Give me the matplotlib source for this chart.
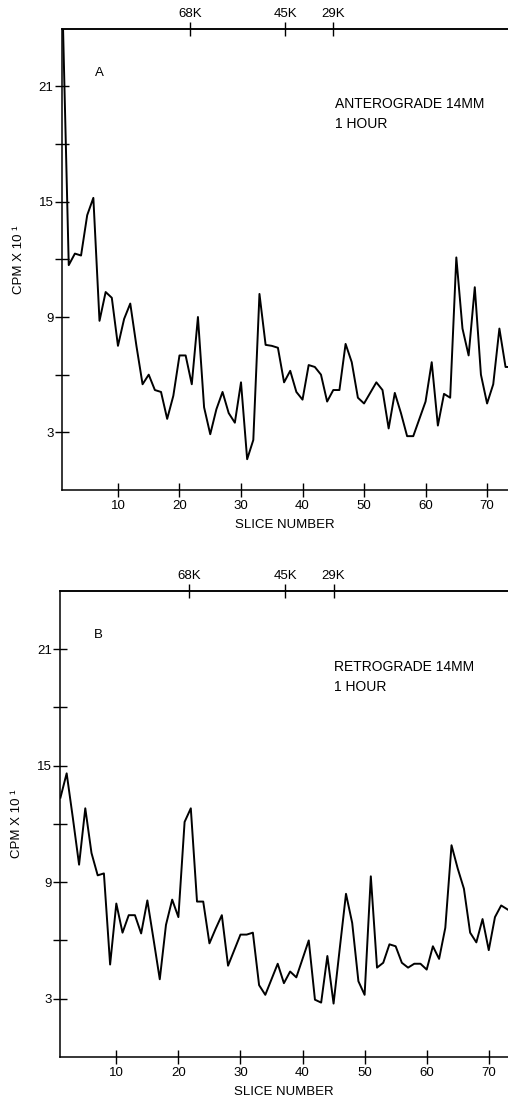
import matplotlib
matplotlib.use('Agg')
import matplotlib.pyplot as plt

plt.rcParams['font.family'] = ['Liberation Sans', 'DejaVu Sans']

#---Data--------------------------------------------------------------------------------------------------------------#
slices = list(range(1, 75))

antero_cpm = [25.0, 11.7, 12.3, 12.2, 14.3, 15.2, 8.8, 10.3, 10.0, 7.5,
              8.9, 9.7, 7.5, 5.5, 6.0, 5.2, 5.1, 3.7, 4.9, 7.0,
              7.0, 5.5, 9.0, 4.3, 2.9, 4.2, 5.1, 4.0, 3.5, 5.6,
              1.6, 2.6, 10.2, 7.55, 7.5, 7.4, 5.6, 6.2, 5.1, 4.7,
              6.5, 6.4, 6.0, 4.6, 5.2, 5.2, 7.6, 6.65, 4.8, 4.5,
              5.05, 5.6, 5.2, 3.2, 5.05, 4.0, 2.8, 2.8, 3.7, 4.6,
              6.65, 3.35, 5.0, 4.8, 12.1, 8.4, 7.0, 10.55, 6.0, 4.5,
              5.5, 8.4, 6.4, 6.4]

retro_cpm = [13.35, 14.6, 12.3, 9.9, 12.8, 10.5, 9.35, 9.45, 4.76, 7.9,
             6.4, 7.3, 7.3, 6.36, 8.06, 6.05, 4.0, 6.8, 8.1, 7.2,
             12.1, 12.8, 8.0, 8.0, 5.85, 6.6, 7.3, 4.7, 5.5, 6.3,
             6.3, 6.4, 3.7, 3.2, 4.0, 4.8, 3.8, 4.4, 4.1, 5.05,
             6.0, 2.95, 2.8, 5.2, 2.75, 5.6, 8.4, 6.9, 3.9, 3.2,
             9.3, 4.6, 4.85, 5.8, 5.7, 4.85, 4.6, 4.8, 4.8, 4.5,
             5.7, 5.05, 6.65, 10.9, 9.7, 8.66, 6.4, 5.9, 7.1, 5.5,
             7.2, 7.8, 7.6, 7.4]

mw_slices = [21.7, 37.2, 45.0]
mw_labels = ['68K', '45K', '29K']

y_ticks = [3, 6, 9, 12, 15, 18, 21]
y_labels = ['3', '', '9', '', '15', '', '21']
x_ticks = [10, 20, 30, 40, 50, 60, 70]

#---Functions---------------------------------------------------------------------------------------------------------#

def panel(rect, values, letter, title, xlim):
    ax = fig.add_axes(rect)
    ax.plot(slices, values, color='black', lw=1.4, clip_on=True)
    ax.set_xlim(*xlim)
    ax.set_ylim(0, 24)
    ax.spines['right'].set_visible(False)
    for s in ['left', 'bottom', 'top']:
        ax.spines[s].set_linewidth(1.1)
    ax.set_yticks(y_ticks, labels=y_labels)
    ax.set_xticks(x_ticks)
    ax.tick_params(direction='inout', length=10, width=1.0, labelsize=9.5, pad=1)
    ax.tick_params(axis='x', pad=2)
    ax.set_xlabel('SLICE NUMBER', fontsize=9.5, labelpad=5)
    ax.set_ylabel('CPM X 10 \u00b9', fontsize=9.5, labelpad=10)

    top = ax.secondary_xaxis('top')
    top.set_xticks(mw_slices, labels=mw_labels)
    top.tick_params(direction='inout', length=10, width=1.0, labelsize=9.5, pad=1)
    top.spines['top'].set_linewidth(1.1)

    ax.text(0.075, 0.905, letter, transform=ax.transAxes, fontsize=9.5, va='center')
    ax.text(0.612, 0.815, title, transform=ax.transAxes, fontsize=10,
            va='center', linespacing=1.55)
    return ax

#---Figure------------------------------------------------------------------------------------------------------------#
fig = plt.figure(figsize=(5.08, 11.06), dpi=100)

panel([0.122, 0.557, 0.878, 0.417], antero_cpm, 'A', 'ANTEROGRADE 14MM\n1 HOUR', (0.9, 73.4))
panel([0.119, 0.0443, 0.881, 0.4216], retro_cpm, 'B', 'RETROGRADE 14MM\n1 HOUR', (1.0, 73.1))

fig.savefig('out.png', dpi=100)
